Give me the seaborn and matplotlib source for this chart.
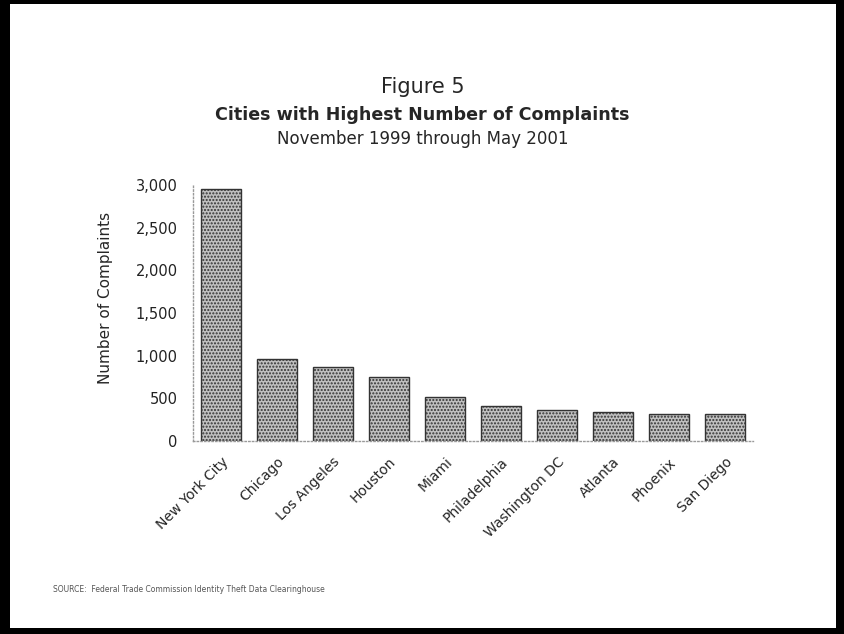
import pandas as pd
import matplotlib.pyplot as plt
import matplotlib.transforms as mtransforms
import seaborn as sns
from matplotlib.patches import Rectangle

cities = ['New York City', 'Chicago', 'Los Angeles', 'Houston', 'Miami',
          'Philadelphia', 'Washington DC', 'Atlanta', 'Phoenix', 'San Diego']
complaints = [2950, 960, 870, 745, 520, 410, 365, 345, 320, 320]
y_ticks = [0, 500, 1000, 1500, 2000, 2500, 3000]
y_tick_labels = ['0', '500', '1,000', '1,500', '2,000', '2,500', '3,000']

def make_chart():
    sns.set_style('white')
    plt.rcParams['font.family'] = ['DejaVu Sans']
    plt.rcParams['hatch.color'] = '#6a6a6a'
    df = pd.DataFrame({'city': cities, 'complaints': complaints})

    fig = plt.figure(figsize=(8.45, 6.34), dpi=100, facecolor='black')
    # white page inside the black frame
    fig.add_artist(Rectangle((10/845, 6/634), 826/845, 624/634, transform=fig.transFigure,
                             facecolor='white', edgecolor='none', zorder=-1))
    ax = fig.add_axes([0.2284, 0.3044, 0.6627, 0.4038])
    sns.barplot(data=df, x='city', y='complaints', color='#c0c0c0', width=0.71,
                edgecolor='#333333', linewidth=1.0, saturation=1, ax=ax)
    for p in ax.patches:
        p.set_hatch('.....')

    ax.set_ylim(0, 3000)
    ax.set_yticks(y_ticks)
    ax.set_yticklabels(y_tick_labels, fontsize=10.5, color='#222222')
    ax.set_xlim(-0.5, len(cities) - 0.5)
    ax.set_xticks([i - 0.5 for i in range(len(cities) + 1)], minor=True)
    ax.set_xticks(range(len(cities)))
    ax.set_xticklabels(cities, rotation=45, ha='right', rotation_mode='anchor', fontsize=10)
    shift = mtransforms.ScaledTranslation(-0.06, 0, fig.dpi_scale_trans)
    for lbl in ax.get_xticklabels():
        lbl.set_transform(lbl.get_transform() + shift)
    ax.tick_params(axis='x', which='major', length=0, pad=10)
    ax.tick_params(axis='x', which='minor', length=4, color='#999999', direction='out')
    ax.tick_params(axis='y', length=3, color='#999999', direction='out', pad=8)
    ax.set_xlabel('')
    ax.set_ylabel('Number of Complaints', fontsize=11)
    ax.yaxis.set_label_coords(-0.142, 0.56)
    sns.despine(ax=ax)
    for side in ['left', 'bottom']:
        ax.spines[side].set_color('#999999')
        ax.spines[side].set_linestyle(':')
        ax.spines[side].set_linewidth(1)

    fig.text(0.5, 1 - 93/634, 'Figure 5', ha='center', va='baseline', fontsize=15)
    fig.text(0.5, 1 - 120/634, 'Cities with Highest Number of Complaints', ha='center',
             va='baseline', fontsize=12.6, fontweight='bold')
    fig.text(0.5, 1 - 144/634, 'November 1999 through May 2001', ha='center',
             va='baseline', fontsize=12)
    fig.text(53/845, 1 - 590/634, 'SOURCE:  Federal Trade Commission Identity Theft Data Clearinghouse',
             va='center', fontsize=5.5, color='#555555')

    fig.savefig('out.png', dpi=100, facecolor='black')

if __name__ == '__main__':
    make_chart()
